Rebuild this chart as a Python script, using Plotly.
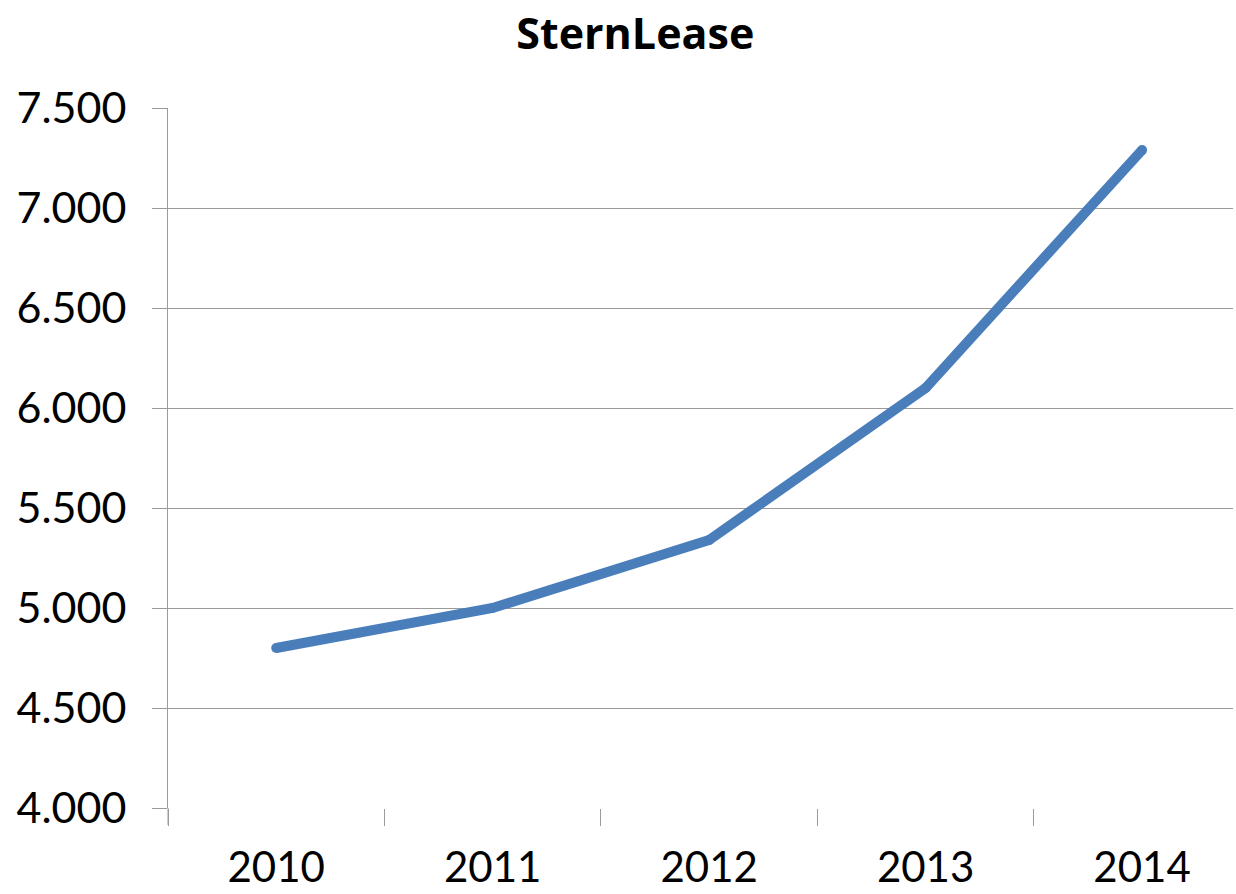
import plotly.graph_objects as go

years = ["2010", "2011", "2012", "2013", "2014"]
values = [4800, 5000, 5340, 6100, 7290]
y_ticks = [4000, 4500, 5000, 5500, 6000, 6500, 7000, 7500]
y_tick_labels = ["4.000", "4.500", "5.000", "5.500", "6.000", "6.500", "7.000", "7.500"]

LINE_COLOR = "#4A7EBB"
GRID = "#9A9A9A"
FONT = "Lato"

fig = go.Figure()
fig.add_trace(go.Scatter(
    x=years, y=values, mode="lines+markers",
    line=dict(color=LINE_COLOR, width=10),
    marker=dict(color=LINE_COLOR, size=10, line=dict(width=0)),
    showlegend=False, hoverinfo="x+y",
))

fig.update_layout(
    width=1236, height=894,
    margin=dict(l=168, r=3, t=108, b=82),
    paper_bgcolor="white", plot_bgcolor="white",
    title=dict(text="<b>SternLease</b>", x=0.514, xanchor="center", y=0.962, yanchor="middle",
               font=dict(family="Open Sans", size=43, color="black")),
    font=dict(family=FONT, color="black"),
)
fig.update_xaxes(
    type="category", categoryorder="array", categoryarray=years,
    range=[-0.5, 4.42], tickson="boundaries",
    ticks="outside", ticklen=17, tickcolor=GRID, tickwidth=1,
    showgrid=False, showline=False, zeroline=False,
    tickfont=dict(family=FONT, size=42, color="black"),
    ticklabelstandoff=31,
)
fig.update_yaxes(
    range=[4000, 7500], tickvals=y_ticks, ticktext=y_tick_labels,
    ticks="outside", ticklen=15, tickcolor=GRID, tickwidth=1,
    showgrid=True, gridcolor=GRID, gridwidth=1,
    showline=True, linecolor=GRID, linewidth=1, zeroline=False,
    tickfont=dict(family=FONT, size=43, color="black"),
    ticklabelstandoff=17,
)
# extend the y-axis line down to the x tick length
fig.add_shape(type="line", xref="paper", yref="paper", x0=0, x1=0, y0=0, y1=-17/704,
              line=dict(color=GRID, width=1))

fig.write_html("out.html", config={"displayModeBar": False},
               post_script="document.body.style.margin='0';")
